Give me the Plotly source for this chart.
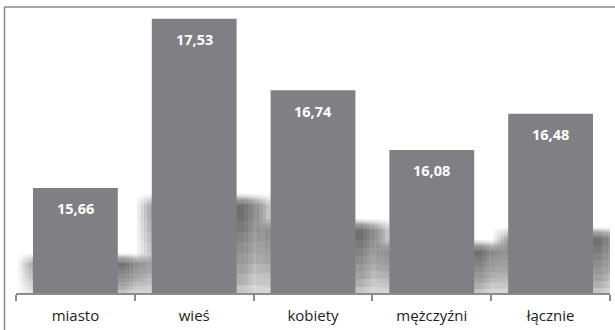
import plotly.graph_objects as go

# Średnia wartość wskaźnika w poszczególnych grupach
categories = ["miasto", "wieś", "kobiety", "mężczyźni", "łącznie"]
values = [15.66, 17.53, 16.74, 16.08, 16.48]

y_min = 14.5
y_max = 17.659

bar_color = "#808084"
shadow_rgb = "104,96,124"

fig = go.Figure()

fig.add_trace(go.Bar(
    x=categories,
    y=values,
    marker=dict(color=bar_color, line=dict(width=0)),
    hoverinfo="skip",
))

# Soft drop shadow behind every bar: a grid of translucent rectangles,
# shrinking horizontally (side blur) and vertically (fade toward the axis),
# so the density is highest just under the top edge next to the bar.
shapes = []
n = 10
for idx, v in enumerate(values):
    h = 0.35 * (v - y_min)
    top = y_min + h
    for i in range(n):
        s = i / (n - 1)
        x0 = idx - 0.48 + s * 0.26
        x1 = idx + 0.70 - s * 0.28
        for j in range(n):
            u = j / (n - 1)
            y1 = top + 0.03 - u * 0.12
            y0 = y_min + max(0.0, u - 0.25) / 0.75 * 0.75 * h
            shapes.append(dict(
                type="rect", xref="x", yref="y", layer="below",
                x0=x0, x1=x1, y0=y0, y1=y1,
                fillcolor=f"rgba({shadow_rgb},0.011)", line=dict(width=0),
            ))

# Outer frame of the chart
shapes.append(dict(
    type="rect", xref="paper", yref="paper", layer="above",
    x0=-0.0194, x1=1.2, y0=-0.5, y1=1.0,
    line=dict(color="#8a8a8a", width=1.5), fillcolor="rgba(0,0,0,0)",
))

# Value labels inside the top of each bar
annotations = []
for cat, v in zip(categories, values):
    annotations.append(dict(
        x=cat, y=v, xref="x", yref="y",
        text=f"{v:.2f}".replace(".", ","),
        showarrow=False, yshift=-21,
        font=dict(family="Open Sans", size=14.5, color="white", weight="bold"),
    ))

fig.update_layout(
    width=615, height=330,
    margin=dict(l=16, r=5, t=7, b=37),
    paper_bgcolor="white", plot_bgcolor="white",
    bargap=0.286,
    showlegend=False,
    shapes=shapes,
    annotations=annotations,
    xaxis=dict(
        type="category",
        range=[-0.5, len(categories) - 0.5],
        showline=True, linecolor="#8c8c8c", linewidth=1.5,
        ticks="outside", tickson="boundaries", ticklen=6,
        tickcolor="#8c8c8c", tickwidth=1.5,
        ticklabelstandoff=8,
        tickfont=dict(family="Open Sans", size=15, color="#222222"),
        showgrid=False, zeroline=False,
    ),
    yaxis=dict(
        range=[y_min, y_max], visible=False,
        showgrid=False, zeroline=False,
    ),
)

fig.write_html("out.html")
